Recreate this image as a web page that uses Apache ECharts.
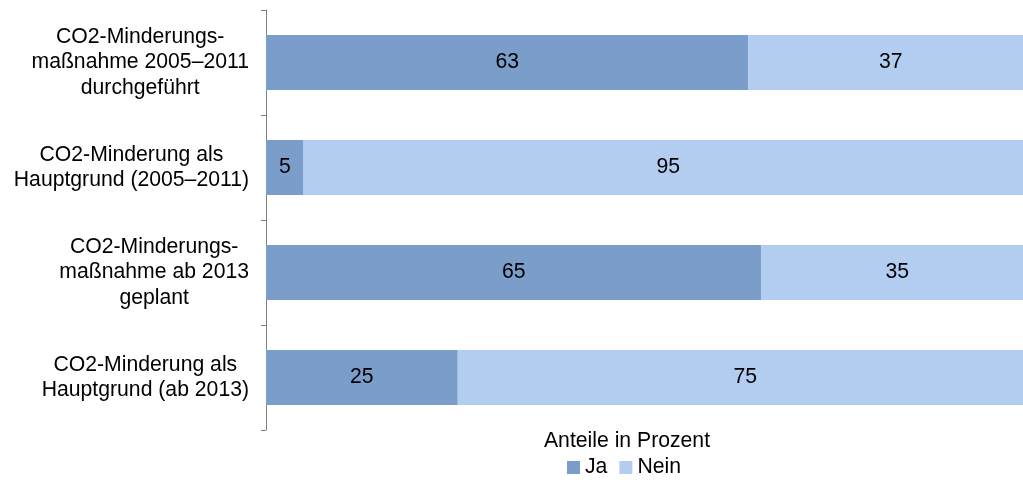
<!DOCTYPE html>
<html><head><meta charset="utf-8">
<script src="https://cdn.jsdelivr.net/npm/echarts@6/dist/echarts.min.js"></script>
<style>html,body{margin:0;padding:0;background:#fff}#c{width:1023px;height:483px}</style>
</head><body><div id="c"></div>
<script>
const categories = [
  'CO2-Minderungs-\nmaßnahme 2005–2011\ndurchgeführt',
  'CO2-Minderung als\nHauptgrund (2005–2011)',
  'CO2-Minderungs-\nmaßnahme ab 2013\ngeplant',
  'CO2-Minderung als\nHauptgrund (ab 2013)'
];
const jaValues = [62.9, 4.9, 64.6, 25.0];
const neinValues = [37.1, 95.1, 35.4, 75.0];
const seriesNames = ['Ja', 'Nein'];
const axisTitle = 'Anteile in Prozent';

const FONT = '"Liberation Sans", Arial, sans-serif';
const FS = 21.2;
const chart = echarts.init(document.getElementById('c'), null, {renderer: 'canvas'});
const labelCfg = {
  show: true, position: 'inside', color: '#000', fontSize: FS, fontFamily: FONT,
  formatter: p => Math.round(p.value)
};
chart.setOption({
  animation: false,
  grid: {left: 266, top: 10, right: 0, bottom: 53, containLabel: false},
  xAxis: {
    type: 'value', min: 0, max: 98.7,
    axisLine: {show: false}, axisTick: {show: false}, axisLabel: {show: false}, splitLine: {show: false}
  },
  yAxis: {
    type: 'category', data: categories, inverse: true,
    axisLine: {show: true, lineStyle: {color: '#808080', width: 1}},
    axisTick: {show: true, length: 5, lineStyle: {color: '#808080'}},
    axisLabel: {
      color: '#000', fontSize: FS, fontFamily: FONT, align: 'right', margin: 17, lineHeight: 25.5,
      formatter: v => v.split('\n').map(l => '{c|' + l + '}').join('\n'),
      rich: {c: {align: 'center', color: '#000', fontSize: FS, fontFamily: FONT, lineHeight: 25.5}}
    }
  },
  legend: {
    data: seriesNames, left: 562, top: 452, icon: 'rect', itemWidth: 13, itemHeight: 13, itemGap: 12,
    textStyle: {color: '#000', fontSize: FS, fontFamily: FONT}
  },
  graphic: [{
    type: 'text', x: 627, y: 441,
    style: {text: axisTitle, fill: '#000', fontSize: FS, fontFamily: FONT, align: 'center', verticalAlign: 'middle'}
  }],
  series: [
    {name: seriesNames[0], type: 'bar', stack: 't', data: jaValues, barWidth: 55, clip: false,
     itemStyle: {color: '#7b9dc9'}, label: labelCfg},
    {name: seriesNames[1], type: 'bar', stack: 't', data: neinValues, barWidth: 55, clip: false,
     itemStyle: {color: '#b3cdf1'}, label: labelCfg}
  ]
});
</script></body></html>
